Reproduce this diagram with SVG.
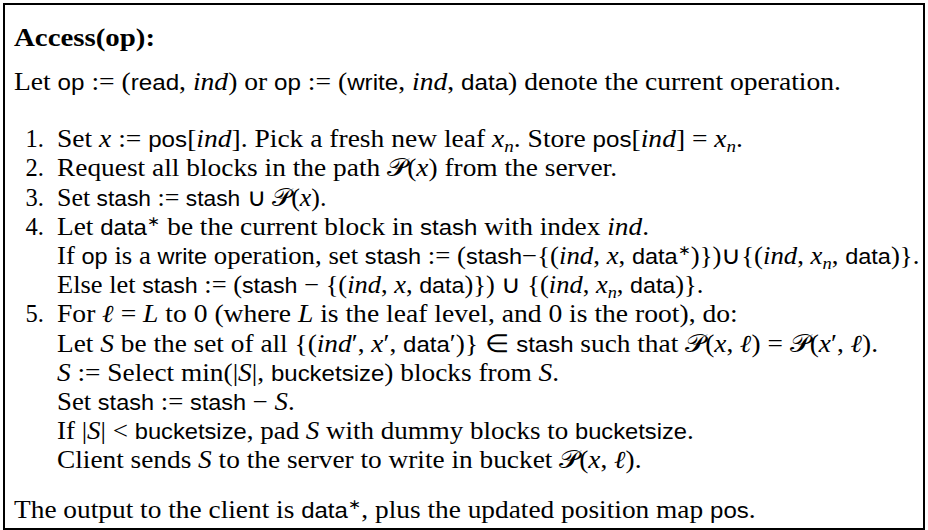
<svg xmlns="http://www.w3.org/2000/svg" width="928" height="530" viewBox="0 0 928 530">
<style>
text{font-family:"Liberation Serif","Times New Roman",serif;font-size:24.5px;fill:#000}
.bf{font-weight:bold}
.sf{font-family:"Liberation Sans",Arial,sans-serif;font-size:21.5px}
.it{font-style:italic}
.cal{font-family:"DejaVu Serif","Liberation Serif",serif;font-style:normal}
.sub{font-size:17px}
.sup{font-size:14px}
</style>
<rect id="frame" x="4" y="4" width="920" height="525" fill="#fff" stroke="#000" stroke-width="2"/>
<g id="title"><text class="bf" x="14" y="46" textLength="141" lengthAdjust="spacingAndGlyphs">Access(op):</text></g>
<g id="intro"><text x="14" y="89.5" textLength="827" lengthAdjust="spacingAndGlyphs">Let <tspan class="sf">op</tspan> := (<tspan class="sf">read</tspan>, <tspan class="it">ind</tspan>) or <tspan class="sf">op</tspan> := (<tspan class="sf">write</tspan>, <tspan class="it">ind</tspan>, <tspan class="sf">data</tspan>) denote the current operation.</text></g>
<g id="step1">
<text x="25.5" y="147.2">1.</text>
<text x="57" y="147.2" textLength="686" lengthAdjust="spacingAndGlyphs">Set <tspan class="it">x</tspan> := <tspan class="sf">pos</tspan>[<tspan class="it">ind</tspan>]. Pick a fresh new leaf <tspan class="it">x</tspan><tspan class="it sub" dy="5">n</tspan><tspan dy="-5">. Store </tspan><tspan class="sf">pos</tspan>[<tspan class="it">ind</tspan>] = <tspan class="it">x</tspan><tspan class="it sub" dy="5">n</tspan><tspan dy="-5">.</tspan></text>
</g>
<g id="step2">
<text x="25.5" y="176.4">2.</text>
<text x="57" y="176.4" textLength="560" lengthAdjust="spacingAndGlyphs">Request all blocks in the path <tspan class="cal">𝒫</tspan>(<tspan class="it">x</tspan>) from the server.</text>
</g>
<g id="step3">
<text x="25.5" y="205.6">3.</text>
<text x="57" y="205.6" textLength="269.5" lengthAdjust="spacingAndGlyphs">Set <tspan class="sf">stash</tspan> := <tspan class="sf">stash</tspan> ∪ <tspan class="cal">𝒫</tspan>(<tspan class="it">x</tspan>).</text>
</g>
<g id="step4">
<text x="25.5" y="234.8">4.</text>
<text x="57" y="234.8" textLength="592" lengthAdjust="spacingAndGlyphs">Let <tspan class="sf">data</tspan><tspan class="sup" dy="-9">∗</tspan><tspan dy="9"> be the current block in </tspan><tspan class="sf">stash</tspan> with index <tspan class="it">ind</tspan>.</text>
<text x="57" y="264" textLength="862.4" lengthAdjust="spacingAndGlyphs">If <tspan class="sf">op</tspan> is a <tspan class="sf">write</tspan> operation, set <tspan class="sf">stash</tspan> := (<tspan class="sf">stash</tspan>−{(<tspan class="it">ind</tspan>, <tspan class="it">x</tspan>, <tspan class="sf">data</tspan><tspan class="sup" dy="-9">∗</tspan><tspan dy="9">)})∪{(</tspan><tspan class="it">ind</tspan>, <tspan class="it">x</tspan><tspan class="it sub" dy="5">n</tspan><tspan dy="-5">, </tspan><tspan class="sf">data</tspan>)}.</text>
<text x="57" y="293.2" textLength="646.4" lengthAdjust="spacingAndGlyphs">Else let <tspan class="sf">stash</tspan> := (<tspan class="sf">stash</tspan> − {(<tspan class="it">ind</tspan>, <tspan class="it">x</tspan>, <tspan class="sf">data</tspan>)}) ∪ {(<tspan class="it">ind</tspan>, <tspan class="it">x</tspan><tspan class="it sub" dy="5">n</tspan><tspan dy="-5">, </tspan><tspan class="sf">data</tspan>)}.</text>
</g>
<g id="step5">
<text x="25.5" y="322.4">5.</text>
<text x="57" y="322.4" textLength="680.7" lengthAdjust="spacingAndGlyphs">For <tspan class="it">ℓ</tspan> = <tspan class="it">L</tspan> to 0 (where <tspan class="it">L</tspan> is the leaf level, and 0 is the root), do:</text>
<text x="57" y="351.6" textLength="821" lengthAdjust="spacingAndGlyphs">Let <tspan class="it">S</tspan> be the set of all {(<tspan class="it">ind</tspan>′, <tspan class="it">x</tspan>′, <tspan class="sf">data</tspan>′)} ∈ <tspan class="sf">stash</tspan> such that <tspan class="cal">𝒫</tspan>(<tspan class="it">x</tspan>, <tspan class="it">ℓ</tspan>) = <tspan class="cal">𝒫</tspan>(<tspan class="it">x</tspan>′, <tspan class="it">ℓ</tspan>).</text>
<text x="57" y="380.8" textLength="502" lengthAdjust="spacingAndGlyphs"><tspan class="it">S</tspan> := Select min(|<tspan class="it">S</tspan>|, <tspan class="sf">bucketsize</tspan>) blocks from <tspan class="it">S</tspan>.</text>
<text x="57" y="410" textLength="237.6" lengthAdjust="spacingAndGlyphs">Set <tspan class="sf">stash</tspan> := <tspan class="sf">stash</tspan> − <tspan class="it">S</tspan>.</text>
<text x="57" y="439.2" textLength="636.7" lengthAdjust="spacingAndGlyphs">If |<tspan class="it">S</tspan>| &lt; <tspan class="sf">bucketsize</tspan>, pad <tspan class="it">S</tspan> with dummy blocks to <tspan class="sf">bucketsize</tspan>.</text>
<text x="57" y="468.4" textLength="584.5" lengthAdjust="spacingAndGlyphs">Client sends <tspan class="it">S</tspan> to the server to write in bucket <tspan class="cal">𝒫</tspan>(<tspan class="it">x</tspan>, <tspan class="it">ℓ</tspan>).</text>
</g>
<g id="output"><text x="14" y="518" textLength="741.6" lengthAdjust="spacingAndGlyphs">The output to the client is <tspan class="sf">data</tspan><tspan class="sup" dy="-9">∗</tspan><tspan dy="9">, plus the updated position map </tspan><tspan class="sf">pos</tspan>.</text></g>
</svg>
